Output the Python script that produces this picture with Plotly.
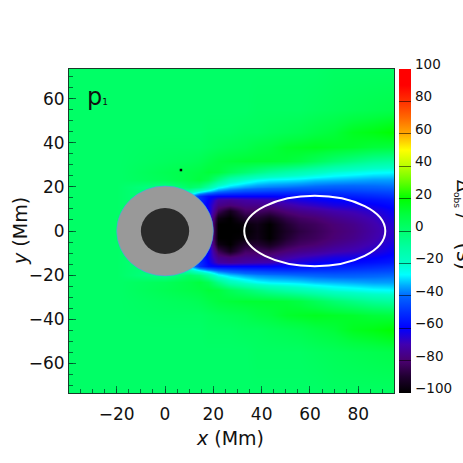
import plotly.graph_objects as go

FONT = "DejaVu Sans"
# grid of the map (Mm); y_abs is the distance from the axis of the (symmetric) wedge
x_cols = [-40, -22, -20, 0, 10, 14, 18, 22, 27, 33, 38, 43, 50, 56, 62, 70, 78, 86, 95]
y_abs = [0, 3, 6, 9, 12, 14, 16, 18, 20, 23, 27, 32, 38, 45, 55, 74]

col_m40 = [2, 2, 2, 2, 2, 2, 2, 2, 2, 2, 2, 2, 2, 2, 2, 2]
col_m22 = [2, 2, 2, 2, 2, 2, 2, 2, 2, 2, 2, 2, 2, 2, 2, 2]
col_m20 = [2, 2, 2, 2, 2, 2, 2, 2, 2, 2, 2, 2, 2, 2, 2, 2]
col_0 = [-5, -5, -5, -5, -5, -5, -5, -5, -6, 5, 6, 4, 3, 2, 2, 2]
col_10 = [-30, -30, -30, -30, -30, -30, -30, -12, 2, 8, 8, 5, 3, 2, 2, 2]
col_14 = [-50, -50, -50, -50, -50, -50, -50, -22, -2, 10, 9, 6, 3, 2, 2, 2]
col_18 = [-60, -60, -60, -60, -62, -60, -58, -30, -12, 6, 11, 8, 4, 3, 2, 2]
col_22 = [-100, -100, -96, -84, -76, -72, -60, -38, -25, -5, 10, 10, 5, 3, 2, 2]
col_27 = [-100, -100, -100, -94, -79, -74, -60, -42, -31, -16, 5, 11, 6, 3, 2, 2]
col_33 = [-100, -98, -90, -82, -76, -72, -60, -45, -35, -22, 0, 12, 7, 4, 2, 2]
col_38 = [-96, -95, -90, -82, -76, -71, -60, -46, -37, -26, -4, 12, 9, 4, 3, 2]
col_43 = [-100, -100, -94, -84, -76, -70, -60, -47, -38, -28, -8, 12, 10, 5, 3, 2]
col_50 = [-92, -90, -86, -79, -72, -66, -59, -48, -39, -29, -12, 11, 13, 6, 3, 2]
col_56 = [-87, -85, -82, -76, -69, -64, -58, -48, -40, -30, -15, 9, 14, 7, 3, 2]
col_62 = [-84, -83, -80, -74, -67, -62, -57, -48, -41, -32, -18, 5, 15, 9, 4, 2]
col_70 = [-80, -79, -76, -71, -64, -60, -55, -48, -42, -33, -22, 0, 14, 11, 5, 3]
col_78 = [-77, -76, -73, -69, -63, -59, -54, -47, -42, -34, -24, -4, 13, 15, 6, 3]
col_86 = [-72, -71, -69, -66, -61, -57, -52, -46, -41, -35, -26, -8, 11, 17, 7, 3]
col_95 = [-66, -65, -63, -61, -58, -55, -50, -45, -40, -35, -27, -10, 10, 20, 8, 3]
columns = [col_m40, col_m22, col_m20, col_0, col_10, col_14, col_18, col_22, col_27, col_33,
           col_38, col_43, col_50, col_56, col_62, col_70, col_78, col_86, col_95]

# colour table
scale_values = [-100, -90, -80, -70, -60, -50, -40, -34, -27, -20, -10, 0, 10, 20, 30, 40, 50, 60, 70, 80, 90, 100]
scale_colors = ["#000000", "#200030", "#4a0070", "#4000b0", "#0000ff", "#0030ff", "#0068ff", "#00a8ff", "#00ffff",
                "#00ffc8", "#00ffa0", "#00ff70", "#00ff40", "#00ff00", "#60ff00", "#b8ff00", "#ffff00", "#ffa800",
                "#ff6800", "#ff3000", "#ff0000", "#ff0000"]
bar_ticks = [-100, -80, -60, -40, -20, 0, 20, 40, 60, 80, 100]

# structures
spot_cx, spot_cy = 0, 0
penumbra_rx, penumbra_ry = 20, 20.4
umbra_rx, umbra_ry = 10, 10.4
ell_cx, ell_cy, ell_rx, ell_ry = 62, 0, 29.2, 16
dot_x, dot_y = [6.6], [27.7]

y_vals = [-v for v in reversed(y_abs[1:])] + y_abs
z = []
for i in range(len(y_vals)):
    key = abs(y_vals[i])
    k = y_abs.index(key)
    z.append([c[k] for c in columns])

cs = [[(v + 100) / 200, c] for v, c in zip(scale_values, scale_colors)]
fig = go.Figure()
fig.add_trace(go.Heatmap(
    x=x_cols, y=y_vals, z=z, zmin=-100, zmax=100, zsmooth="best", colorscale=cs,
    hoverinfo="skip",
    colorbar=dict(x=1.0154, xanchor="left", xpad=0, y=0.5, yanchor="middle", ypad=0, len=1, lenmode="fraction",
                  thickness=12, thicknessmode="pixels", outlinewidth=0,
                  tickmode="array", tickvals=bar_ticks, showticklabels=False,
                  ticks="inside", ticklen=12, tickcolor="rgba(0,0,0,0.55)", tickwidth=1),
))
fig.add_trace(go.Scatter(x=dot_x, y=dot_y, mode="markers", marker=dict(color="black", size=2.5, symbol="square"),
                         hoverinfo="skip", showlegend=False))


def ell(cx, cy, rx, ry, **kw):
    return dict(type="circle", xref="x", yref="y", x0=cx - rx, x1=cx + rx, y0=cy - ry, y1=cy + ry, layer="above", **kw)


shapes = [
    ell(spot_cx, spot_cy, penumbra_rx, penumbra_ry, fillcolor="#999999", line=dict(width=1, color="rgba(60,170,235,0.6)")),
    ell(spot_cx, spot_cy, umbra_rx, umbra_ry, fillcolor="#2a2a2a", line=dict(width=0)),
    ell(ell_cx, ell_cy, ell_rx, ell_ry, line=dict(color="white", width=2)),
]

bar_labels = [
    dict(text=str(v).replace("-", "\u2212"), xref="paper", yref="paper", x=1.0585, y=(v + 100) / 200, yshift=5,
         showarrow=False, xanchor="left", yanchor="middle", font=dict(family=FONT, size=13.5, color="#111"))
    for v in bar_ticks
]

axis_common = dict(showgrid=False, zeroline=False, showline=True, linecolor="#1a3a2a", linewidth=1,
                   ticks="inside", ticklen=7, tickcolor="rgba(0,70,40,0.75)", tickwidth=1,
                   tickmode="array", tickvals=[-60, -40, -20, 0, 20, 40, 60, 80],
                   minor=dict(ticks="inside", ticklen=4, dtick=5, tick0=0, tickcolor="rgba(0,70,40,0.75)", showgrid=False),
                   tickfont=dict(family=FONT, size=17, color="#111"), mirror=True)
fig.update_layout(
    width=463, height=463, autosize=False, showlegend=False,
    margin=dict(l=69, r=69, t=69, b=70, pad=0, autoexpand=False),
    paper_bgcolor="white", plot_bgcolor="white", shapes=shapes,
    xaxis=dict(range=[-39.75, 94.8], ticklabelstandoff=6, **axis_common),
    yaxis=dict(range=[-73.6, 73.6], **axis_common),
    annotations=bar_labels + [
        dict(text="<i>x</i> (Mm)", xref="paper", yref="paper", x=0.495, y=-0.138, showarrow=False,
             xanchor="center", yanchor="middle", font=dict(family=FONT, size=19, color="#111")),
        dict(text="<i>y</i> (Mm)", xref="paper", yref="paper", x=-0.151, y=0.5, showarrow=False, textangle=-90,
             xanchor="center", yanchor="middle", font=dict(family=FONT, size=19, color="#111")),
        dict(text="p<span style='font-size:9px'>1</span>", xref="x", yref="y", x=-33, y=61, showarrow=False, xanchor="left", yanchor="middle",
             font=dict(family=FONT, size=24, color="#111")),
        dict(text="Δ<sub><span style='font-size:9px'>obs</span></sub> /    <span style='font-size:21px'>(s)</span>",
             xref="paper", yref="paper", x=1.215, y=0.52, showarrow=False, textangle=90,
             xanchor="center", yanchor="middle", font=dict(family=FONT, size=18, color="#111")),
    ],
)
fig.write_html("out.html", config=dict(displayModeBar=False),
               post_script="document.body.style.margin='0';document.body.style.overflow='hidden';")
